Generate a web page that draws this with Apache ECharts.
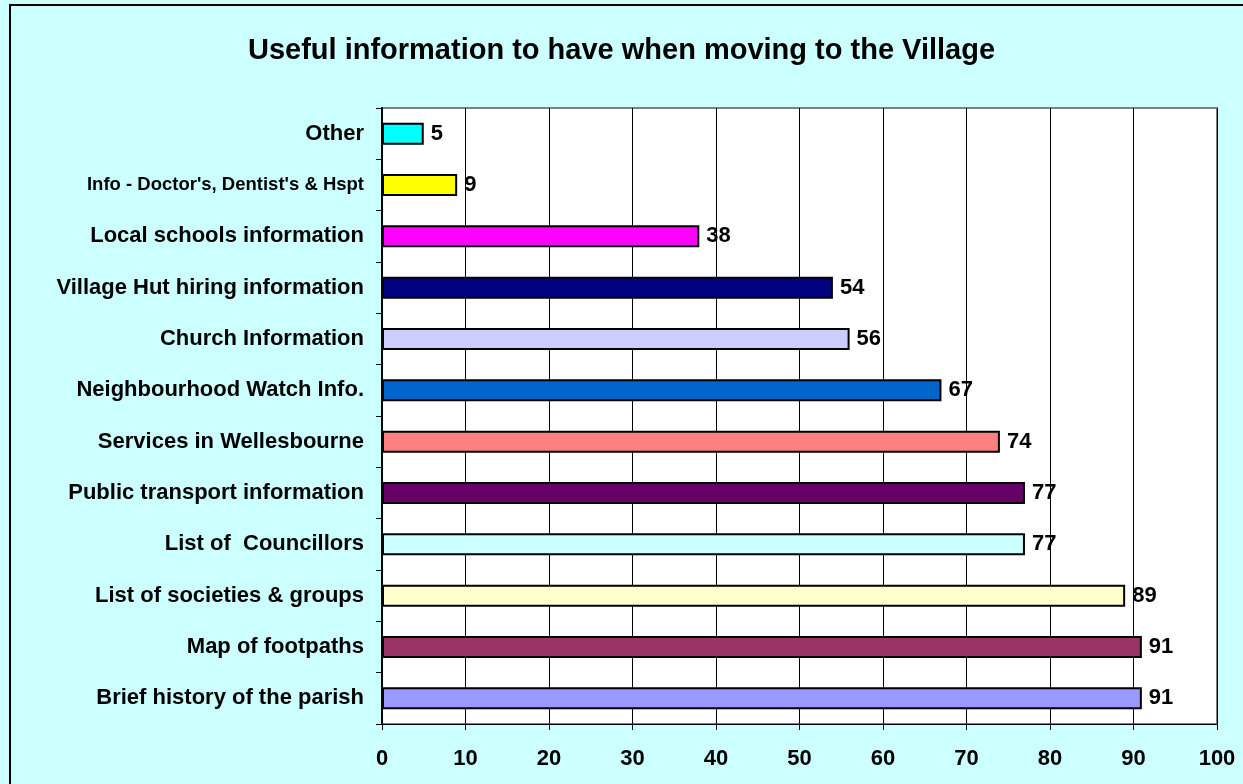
<!DOCTYPE html>
<html>
<head>
<meta charset="utf-8">
<script src="https://cdn.jsdelivr.net/npm/echarts@6/dist/echarts.min.js"></script>
<style>
  html, body { margin: 0; padding: 0; background: #ccffff; }
  .frame {
    position: absolute; left: 9px; top: 4px;
    width: 1260px; height: 800px;
    border-left: 2px solid #000; border-top: 2px solid #000;
  }
  #chart { position: absolute; left: 0; top: 0; width: 1243px; height: 784px; }
</style>
</head>
<body>
<div class="frame"></div>
<div id="chart"></div>
<script>
// bottom to top, as ECharts draws a category yAxis
const categories = [
  'Brief history of the parish',
  'Map of footpaths',
  'List of societies & groups',
  'List of  Councillors',
  'Public transport information',
  'Services in Wellesbourne',
  'Neighbourhood Watch Info.',
  'Church Information',
  'Village Hut hiring information',
  'Local schools information',
  "Info - Doctor's, Dentist's & Hspt",
  'Other'
]
const values = [91, 91, 89, 77, 77, 74, 67, 56, 54, 38, 9, 5]
const barColors = [
  '#9999ff', '#993366', '#ffffcc', '#ccffff', '#660066', '#ff8080',
  '#0066cc', '#ccccff', '#000080', '#ff00ff', '#ffff00', '#00ffff'
]
const xTicks = [0, 10, 20, 30, 40, 50, 60, 70, 80, 90, 100]

const font = 'Liberation Sans, Arial, sans-serif'
const myChart = echarts.init(document.getElementById('chart'))

const option = {
  backgroundColor: 'transparent',
  animation: false,
  title: {
    text: 'Useful information to have when moving to the Village',
    left: 'center',
    top: 31,
    textStyle: { fontFamily: font, fontSize: 29, fontWeight: 'bold', color: '#000' }
  },
  grid: {
    left: 382,
    right: 26,
    top: 108,
    bottom: 60,
    show: true,
    backgroundColor: '#fff',
    borderColor: '#808080',
    borderWidth: 2
  },
  xAxis: {
    type: 'value',
    min: xTicks[0],
    max: xTicks[xTicks.length - 1],
    interval: 10,
    axisLine: { show: true, lineStyle: { color: '#000', width: 1 } },
    axisTick: { show: true, length: 6, lineStyle: { color: '#000' } },
    splitLine: { show: true, lineStyle: { color: '#000', width: 1 } },
    axisLabel: { fontFamily: font, fontSize: 22, fontWeight: 'bold', color: '#000', margin: 24 }
  },
  yAxis: {
    type: 'category',
    data: categories,
    axisLine: { show: true, lineStyle: { color: '#000', width: 2 } },
    axisTick: { show: true, length: 6, lineStyle: { color: '#000' } },
    axisLabel: {
      fontFamily: font, fontSize: 22, fontWeight: 'bold', color: '#000', margin: 18,
      // the long label is squeezed in the original
      formatter: (v) => v.length > 30 ? '{n|' + v + '}' : v,
      rich: {
        n: { fontFamily: font, fontSize: 18.5, fontWeight: 'bold', color: '#000' }
      }
    }
  },
  series: [
    {
      type: 'bar',
      barWidth: 22,
      data: values.map((v, i) => ({
        value: v,
        itemStyle: { color: barColors[i], borderColor: '#000', borderWidth: 2 }
      })),
      label: {
        show: true,
        position: 'right',
        distance: 7,
        fontFamily: font,
        fontSize: 22,
        fontWeight: 'bold',
        color: '#000'
      }
    }
  ]
}

option && myChart.setOption(option)
</script>
</body>
</html>
